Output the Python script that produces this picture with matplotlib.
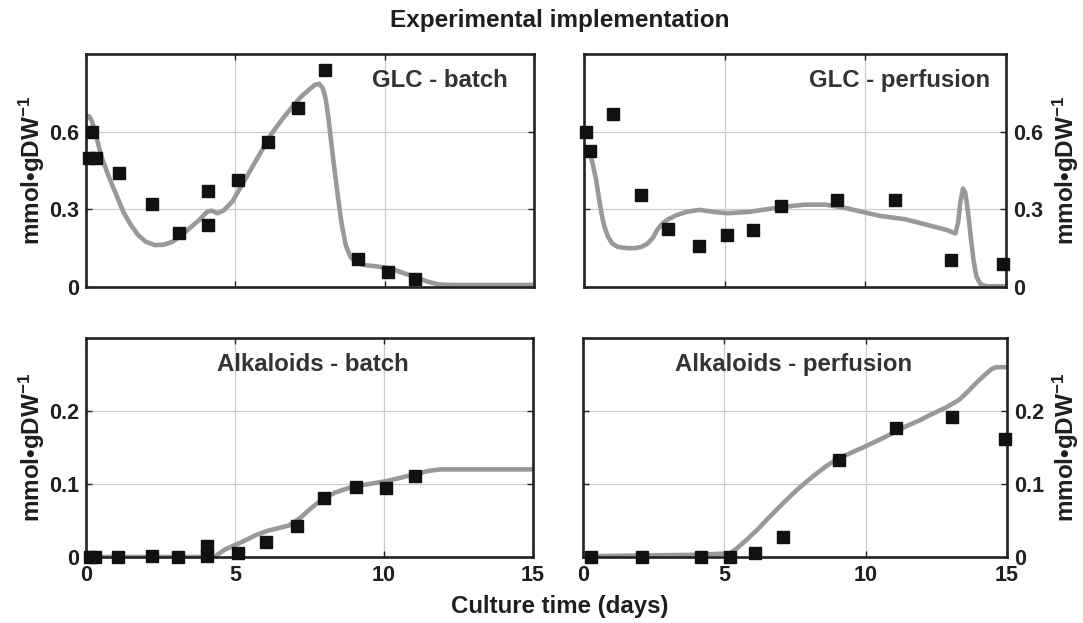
import matplotlib
matplotlib.use("Agg")
import matplotlib.pyplot as plt

plt.rcParams['font.family'] = ['Liberation Sans', 'DejaVu Sans']
plt.rcParams['font.weight'] = 'bold'
plt.rcParams['mathtext.fontset'] = 'custom'
plt.rcParams['mathtext.rm'] = 'Liberation Sans:bold'
plt.rcParams['mathtext.it'] = 'Liberation Sans:bold'
plt.rcParams['mathtext.bf'] = 'Liberation Sans:bold'

# ---------------- data ----------------
# GLC - batch
glc_b_pts_t = [0.2, 0.1, 0.35, 1.1, 2.2, 3.1, 4.1, 4.1, 5.1, 6.1, 7.1, 8.0, 9.1, 10.1, 11.0]
glc_b_pts_v = [0.60, 0.50, 0.50, 0.44, 0.32, 0.21, 0.37, 0.24, 0.415, 0.56, 0.69, 0.84, 0.11, 0.058, 0.03]
glc_b_fit_t = [0.1, 0.2, 0.35, 0.5, 0.75, 1.0, 1.25, 1.5, 1.75, 2.0, 2.3, 2.6, 2.9, 3.2, 3.5, 3.8,
               4.05, 4.2, 4.4, 4.6, 4.9, 5.2, 5.5, 5.85, 6.2, 6.55, 6.9, 7.2, 7.45, 7.65, 7.8,
               7.92, 8.02, 8.12, 8.25, 8.4, 8.55, 8.7, 8.86, 9.05, 9.3, 9.7, 10.2, 10.6, 11.0,
               11.4, 11.8, 12.2, 15.0]
glc_b_fit_v = [0.66, 0.64, 0.58, 0.51, 0.43, 0.36, 0.29, 0.24, 0.20, 0.175, 0.162, 0.163, 0.175,
               0.20, 0.23, 0.26, 0.29, 0.295, 0.285, 0.295, 0.33, 0.39, 0.45, 0.52, 0.59, 0.645,
               0.695, 0.735, 0.76, 0.78, 0.785, 0.77, 0.73, 0.65, 0.52, 0.38, 0.25, 0.16, 0.115,
               0.095, 0.085, 0.08, 0.072, 0.055, 0.04, 0.022, 0.01, 0.008, 0.008]

# GLC - perfusion
glc_p_pts_t = [0.06, 0.22, 1.02, 2.04, 3.0, 4.1, 5.1, 6.0, 7.0, 9.0, 11.07, 13.06, 14.9]
glc_p_pts_v = [0.597, 0.526, 0.669, 0.355, 0.225, 0.16, 0.20, 0.22, 0.314, 0.335, 0.335, 0.106, 0.09]
glc_p_fit_t = [0.2, 0.3, 0.43, 0.52, 0.62, 0.72, 0.85, 1.0, 1.2, 1.54, 1.8, 2.04, 2.25, 2.45, 2.6,
               2.78, 3.0, 3.3, 3.64, 4.1, 4.6, 5.1, 5.86, 6.48, 7.1, 7.84, 8.6, 9.3, 9.9, 10.5,
               11.4, 12.2, 12.9, 13.2, 13.3, 13.38, 13.47, 13.55, 13.65, 13.75, 13.85, 13.95,
               14.1, 14.3, 15.0]
glc_p_fit_v = [0.52, 0.48, 0.415, 0.35, 0.285, 0.235, 0.195, 0.168, 0.155, 0.15, 0.15, 0.155,
               0.167, 0.19, 0.22, 0.245, 0.262, 0.278, 0.29, 0.298, 0.29, 0.285, 0.29, 0.30, 0.31,
               0.318, 0.318, 0.305, 0.29, 0.275, 0.262, 0.24, 0.22, 0.207, 0.25, 0.33, 0.38,
               0.365, 0.29, 0.19, 0.10, 0.04, 0.01, 0.003, 0.003]

# Alkaloids - batch
alk_b_pts_t = [0.12, 0.31, 1.06, 2.2, 3.09, 4.05, 4.05, 5.09, 6.03, 7.09, 7.99, 9.07, 10.06, 11.04]
alk_b_pts_v = [0.0, 0.0, 0.0, 0.0014, 0.0, 0.001, 0.015, 0.006, 0.021, 0.042, 0.081, 0.096, 0.094, 0.111]
alk_b_fit_t = [0.0, 4.3, 4.65, 5.2, 5.7, 6.1, 6.5, 6.8, 7.0, 7.2, 7.5, 7.77, 8.05, 8.35, 8.7, 9.04,
               9.5, 10.08, 10.5, 11.0, 11.5, 11.9, 15.0]
alk_b_fit_v = [0.0, 0.0, 0.01, 0.02, 0.03, 0.036, 0.04, 0.043, 0.048, 0.054, 0.065, 0.074, 0.082,
               0.088, 0.093, 0.097, 0.10, 0.104, 0.108, 0.113, 0.118, 0.12, 0.12]

# Alkaloids - perfusion
alk_p_pts_t = [0.3, 2.1, 4.16, 5.2, 6.1, 7.06, 9.04, 11.09, 13.06, 14.93]
alk_p_pts_v = [0.0, 0.0, 0.0, 0.0, 0.006, 0.027, 0.133, 0.177, 0.192, 0.161]
alk_p_fit_t = [0.0, 4.0, 5.2, 5.42, 5.8, 6.16, 6.6, 7.14, 7.6, 8.12, 8.55, 8.98, 9.5, 9.96, 10.4,
               10.82, 11.43, 11.9, 12.3, 12.8, 13.3, 13.6, 13.9, 14.2, 14.44, 14.6, 15.0]
alk_p_fit_v = [0.001, 0.003, 0.005, 0.011, 0.024, 0.037, 0.055, 0.076, 0.093, 0.110, 0.123, 0.134,
               0.143, 0.151, 0.159, 0.167, 0.179, 0.187, 0.195, 0.204, 0.215, 0.226, 0.238, 0.249,
               0.257, 0.26, 0.26]

panel_titles = ["GLC - batch", "GLC - perfusion", "Alkaloids - batch", "Alkaloids - perfusion"]
glc_yticks = [0, 0.3, 0.6]
glc_yticklabels = ["0", "0.3", "0.6"]
alk_yticks = [0, 0.1, 0.2]
alk_yticklabels = ["0", "0.1", "0.2"]
xticks = [0, 5, 10, 15]
xticklabels = ["0", "5", "10", "15"]
ylabel = "mmol\u2022gDW$^{-1}$"

# ---------------- figure ----------------
W, H = 1083, 623
fig = plt.figure(figsize=(W / 100, H / 100), dpi=100)

def rect(x0, y0, x1, y1):
    return [x0 / W, 1 - y1 / H, (x1 - x0) / W, (y1 - y0) / H]

ax_tl = fig.add_axes(rect(86, 54, 534, 287))
ax_tr = fig.add_axes(rect(584, 54, 1006, 287))
ax_bl = fig.add_axes(rect(86, 338, 533, 557))
ax_br = fig.add_axes(rect(583, 338, 1007, 557))

TXT = '#1e1e1e'
CURVE = '#999999'
TICK_FS = 15.5
LABEL_FS = 17.5
PANEL_FS = 17.3

def style(ax, yticks, yticklabels, ylim, right, show_x, label_x):
    ax.set_xlim(0, 15)
    ax.set_ylim(*ylim)
    ax.set_xticks(xticks)
    ax.set_yticks(yticks)
    ax.grid(True, color='#cccccc', linewidth=0.9)
    ax.set_axisbelow(True)
    for s in ax.spines.values():
        s.set_linewidth(1.9)
        s.set_color('#222222')
    ax.tick_params(direction='in', length=4, width=1.0, colors='#222222',
                   top=True, right=True, labelsize=TICK_FS)
    ax.tick_params(axis='x', pad=6)
    if show_x:
        ax.set_xticklabels(xticklabels, fontweight='bold')
    else:
        ax.set_xticklabels([])
    ax.set_yticklabels(yticklabels, fontweight='bold')
    for lab in ax.get_yticklabels() + ax.get_xticklabels():
        lab.set_color(TXT)
    if right:
        ax.yaxis.tick_right()
        ax.tick_params(axis='y', left=True, right=True, direction='in', pad=5)
        ax.yaxis.set_label_position('right')
        ax.set_ylabel(ylabel, fontsize=LABEL_FS, fontweight='bold', color=TXT, rotation=90)
    else:
        ax.tick_params(axis='y', pad=5)
        ax.set_ylabel(ylabel, fontsize=LABEL_FS, fontweight='bold', color=TXT)
    ax.yaxis.set_label_coords(label_x, 0.5)

def draw(ax, ft, fv, pt, pv):
    ax.plot(ft, fv, color=CURVE, linewidth=3.3, solid_capstyle='round',
            solid_joinstyle='round', zorder=2)
    ax.plot(pt, pv, linestyle='none', marker='s', markersize=9, color='#111111',
            markeredgecolor='#111111', zorder=3, clip_on=False)

draw(ax_tl, glc_b_fit_t, glc_b_fit_v, glc_b_pts_t, glc_b_pts_v)
draw(ax_tr, glc_p_fit_t, glc_p_fit_v, glc_p_pts_t, glc_p_pts_v)
draw(ax_bl, alk_b_fit_t, alk_b_fit_v, alk_b_pts_t, alk_b_pts_v)
draw(ax_br, alk_p_fit_t, alk_p_fit_v, alk_p_pts_t, alk_p_pts_v)

style(ax_tl, glc_yticks, glc_yticklabels, (0, 0.9), False, False, -0.088)
style(ax_tr, glc_yticks, glc_yticklabels, (0, 0.9), True, False, 1.106)
style(ax_bl, alk_yticks, alk_yticklabels, (0, 0.3), False, True, -0.088)
style(ax_br, alk_yticks, alk_yticklabels, (0, 0.3), True, True, 1.103)

ax_tl.text(0.942, 0.935, panel_titles[0], transform=ax_tl.transAxes, ha='right', va='top',
           fontsize=PANEL_FS, fontweight='bold', color='#333333')
ax_tr.text(0.962, 0.935, panel_titles[1], transform=ax_tr.transAxes, ha='right', va='top',
           fontsize=PANEL_FS, fontweight='bold', color='#333333')
ax_bl.text(0.507, 0.93, panel_titles[2], transform=ax_bl.transAxes, ha='center', va='top',
           fontsize=PANEL_FS, fontweight='bold', color='#333333')
ax_br.text(0.496, 0.93, panel_titles[3], transform=ax_br.transAxes, ha='center', va='top',
           fontsize=PANEL_FS, fontweight='bold', color='#333333')

fig.text(560 / W, 1 - 21 / H, "Experimental implementation", ha='center', va='center',
         fontsize=17.5, fontweight='bold', color=TXT)
fig.text(560 / W, 1 - 606 / H, "Culture time (days)", ha='center', va='center',
         fontsize=17.3, fontweight='bold', color=TXT)

fig.savefig("out.png", dpi=100, facecolor='white')
